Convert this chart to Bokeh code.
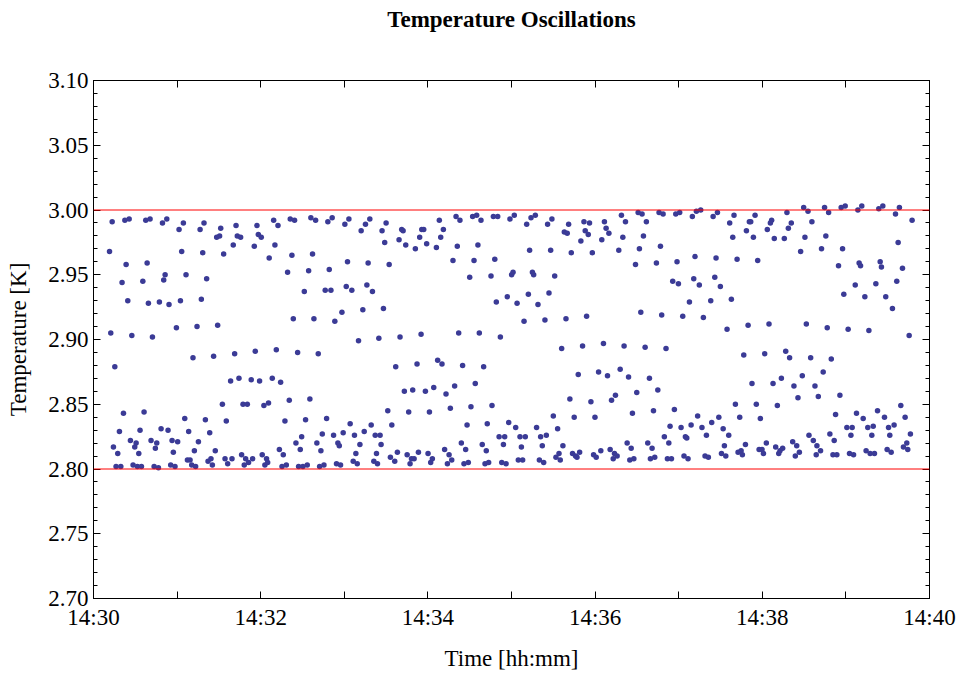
from bokeh.plotting import figure
from bokeh.models import FixedTicker, LinearAxis, Span, Range1d, ColumnDataSource
from bokeh.embed import file_html
from bokeh.resources import INLINE

# ---- data: seconds after 14:30:00 and temperature [K] ----
time_a = [11.5, 12.4, 13.4, 14.3, 15.3, 16.2, 17.4, 18.6, 19.6, 20.5,
          21.5, 22.5, 23.4, 24.6, 25.6, 26.5, 27.5, 28.4, 29.6, 30.6,
          31.5, 32.5, 33.4, 34.4, 35.4, 36.3, 37.5, 38.5, 39.4, 40.6,
          41.3, 42.3, 43.5, 44.4, 45.4, 46.6, 47.3, 48.5, 49.5, 50.4,
          51.4, 52.6, 53.5, 54.2, 55.4, 56.4, 57.3, 58.5, 59.5, 60.4,
          61.4, 62.4, 63.3, 64.5, 65.5, 66.4, 67.4, 68.3, 69.3, 70.5,
          71.4, 72.4, 73.3, 74.3, 75.3, 76.5, 77.4, 78.4, 79.3, 80.3,
          81.2, 82.2, 83.4, 84.3, 85.3, 86.2, 87.4, 88.4, 89.1, 90.5,
          91.3, 92.5, 93.4, 94.4, 95.3, 96.3, 98.4, 99.4, 100.3, 101.3,
          102.3, 103.2, 104.4, 105.6, 106.3, 107.3, 108.2, 109.2, 110.4, 111.3,
          113.2, 114.2, 115.4, 116.1, 117.3, 118.3, 119.2]
temp_a = [2.968, 2.905, 2.991, 2.817, 2.879, 2.802, 2.812, 2.829, 2.802, 2.944,
          2.843, 2.992, 2.958, 2.930, 2.993, 2.822, 2.903, 2.803, 2.817, 2.820,
          2.802, 2.812, 2.830, 2.802, 2.945, 2.844, 2.992, 2.959, 2.928, 2.993,
          2.822, 2.902, 2.802, 2.816, 2.820, 2.801, 2.929, 2.831, 2.990, 2.946,
          2.950, 2.993, 2.830, 2.927, 2.803, 2.822, 2.813, 2.802, 2.909, 2.821,
          2.985, 2.930, 2.968, 2.990, 2.839, 2.950, 2.807, 2.829, 2.807, 2.803,
          2.886, 2.814, 2.802, 2.910, 2.821, 2.985, 2.931, 2.967, 2.990, 2.838,
          2.947, 2.806, 2.828, 2.808, 2.803, 2.887, 2.814, 2.979, 2.911, 2.980,
          2.986, 2.850, 2.966, 2.808, 2.837, 2.804, 2.868, 2.808, 2.973, 2.889,
          2.988, 2.980, 2.870, 2.979, 2.811, 2.850, 2.803, 2.808, 2.850, 2.805,
          2.869, 2.808, 2.972, 2.891, 2.988, 2.981, 2.868]

time_b = [120.4, 121.1, 122.3, 123.0, 124.2, 125.0, 125.6, 126.1, 128.3, 129.3,
          130.2, 131.2, 132.4, 133.4, 134.3, 135.3, 136.2, 137.4, 138.4, 139.3,
          140.5, 141.2, 142.4, 143.4, 144.3, 145.3, 146.5, 147.2, 148.4, 149.4,
          150.3, 151.3, 152.2, 153.4, 154.4, 155.3, 156.0, 157.2, 158.2, 159.4,
          160.3, 161.3, 162.3, 163.2, 164.2, 165.4, 166.3, 167.3, 168.2, 169.2,
          170.4, 171.3, 172.3, 173.2, 174.4, 175.4, 176.4, 177.3, 178.3, 179.2,
          180.4, 181.4, 182.3, 183.3, 184.2, 185.4, 186.4, 187.3, 188.3, 189.3,
          190.2, 191.2, 192.1, 193.3, 194.3, 195.2, 196.2, 197.1, 198.3, 199.3,
          200.2, 201.2, 202.2, 203.1, 203.8, 204.8, 205.7, 206.4, 207.1, 208.1,
          209.0, 210.0, 211.2, 212.2, 213.1, 214.1, 216.2, 216.9, 218.1, 219.3,
          220.0, 221.2, 222.2, 223.1, 224.1, 225.1, 226.2, 227.2, 228.2, 229.1,
          230.1, 231.0, 232.2, 233.2, 234.1, 235.1, 235.6, 237.0, 238.2, 239.1]
temp_b = [2.979, 2.811, 2.849, 2.803, 2.808, 2.805, 2.851, 2.963, 2.870, 2.992,
          2.973, 2.892, 2.988, 2.815, 2.867, 2.802, 2.811, 2.837, 2.803, 2.952,
          2.853, 2.993, 2.965, 2.916, 2.992, 2.820, 2.890, 2.802, 2.815, 2.825,
          2.802, 2.937, 2.838, 2.803, 2.953, 2.854, 2.994, 2.966, 2.916, 2.992,
          2.820, 2.889, 2.802, 2.814, 2.827, 2.803, 2.938, 2.839, 2.991, 2.954,
          2.938, 2.994, 2.826, 2.914, 2.804, 2.820, 2.818, 2.803, 2.921, 2.828,
          2.989, 2.941, 2.960, 2.993, 2.835, 2.938, 2.806, 2.826, 2.812, 2.804,
          2.899, 2.819, 2.984, 2.923, 2.829, 2.989, 2.942, 2.959, 2.993, 2.834,
          2.937, 2.806, 2.826, 2.812, 2.804, 2.901, 2.826, 2.819, 2.984, 2.924,
          2.975, 2.990, 2.845, 2.958, 2.809, 2.834, 2.806, 2.879, 2.813, 2.977,
          2.902, 2.985, 2.984, 2.860, 2.973, 2.811, 2.844, 2.804, 2.808, 2.861,
          2.808, 2.970, 2.881, 2.813, 2.979, 2.904, 2.985, 2.985, 2.860, 2.974]

time_c = [240.1, 241.1, 242.0, 243.2, 244.2, 246.1, 247.0, 248.2, 249.2, 250.1,
          251.1, 252.0, 253.0, 254.0, 255.2, 256.1, 257.1, 258.0, 259.2, 260.2,
          261.1, 262.1, 263.0, 264.0, 264.9, 265.9, 267.1, 268.1, 269.0, 270.0,
          270.9, 272.1, 273.1, 274.0, 275.0, 275.9, 276.9, 278.1, 279.0, 280.0,
          281.0, 281.9, 282.6, 283.6, 285.3, 286.0, 287.0, 288.0, 289.1, 290.1,
          291.1, 292.0, 293.0, 294.2, 295.1, 296.1, 297.0, 298.0, 298.9, 300.1,
          301.1, 302.0, 303.0, 304.0, 304.9, 306.1, 307.1, 308.0, 309.0, 309.9,
          310.9, 312.1, 313.0, 314.0, 315.0, 315.9, 317.1, 318.0, 319.0, 320.0,
          320.9, 322.1, 323.1, 324.0, 325.0, 325.9, 326.9, 328.1, 329.0, 330.0,
          331.0, 331.9, 333.1, 334.1, 335.0, 336.0, 336.9, 337.9, 339.1, 340.0,
          341.0, 341.9, 342.9, 343.8, 345.0, 346.0, 347.0, 347.9, 348.9, 349.8,
          351.0, 352.0, 352.9, 353.9, 355.1, 356.0, 357.0, 358.0, 358.9, 359.9]
temp_c = [2.812, 2.844, 2.805, 2.808, 2.863, 2.971, 2.884, 2.992, 2.979, 2.881,
          2.985, 2.815, 2.858, 2.804, 2.811, 2.847, 2.807, 2.961, 2.864, 2.995,
          2.972, 2.905, 2.992, 2.820, 2.880, 2.804, 2.815, 2.834, 2.805, 2.948,
          2.848, 2.995, 2.961, 2.866, 2.996, 2.973, 2.905, 2.992, 2.819, 2.879,
          2.804, 2.814, 2.835, 2.805, 2.949, 2.849, 2.995, 2.962, 2.929, 2.995,
          2.825, 2.902, 2.805, 2.819, 2.825, 2.804, 2.933, 2.836, 2.993, 2.950,
          2.952, 2.996, 2.832, 2.928, 2.807, 2.825, 2.817, 2.807, 2.914, 2.825,
          2.989, 2.935, 2.969, 2.994, 2.952, 2.950, 2.996, 2.832, 2.927, 2.807,
          2.825, 2.818, 2.805, 2.915, 2.826, 2.989, 2.936, 2.969, 2.993, 2.841,
          2.949, 2.809, 2.831, 2.812, 2.807, 2.893, 2.818, 2.983, 2.916, 2.982,
          2.989, 2.854, 2.967, 2.812, 2.840, 2.810, 2.809, 2.873, 2.813, 2.976,
          2.895, 2.991, 2.984, 2.918, 2.981, 2.990, 2.852, 2.967, 2.811, 2.840]

time_d = [360.8, 362.5, 364.1, 364.8, 366.0, 366.7, 367.9, 368.9, 369.9, 370.8,
          371.8, 373.0, 373.9, 374.6, 375.8, 377.0, 378.0, 378.9, 379.9, 380.8,
          381.8, 383.0, 384.0, 384.9, 385.9, 386.8, 387.8, 389.0, 389.9, 390.9,
          391.8, 392.8, 393.7, 394.7, 395.9, 396.8, 397.8, 399.0, 399.7, 400.9,
          401.9, 402.8, 404.0, 405.0, 405.9, 406.9, 407.8, 408.8, 409.7, 410.9,
          411.9, 412.9, 413.8, 414.8, 415.7, 416.9, 417.9, 418.8, 419.8, 420.7,
          421.7, 422.9, 423.8, 424.8, 425.8, 426.7, 427.7, 428.9, 429.8, 430.8,
          431.7, 432.7, 433.6, 434.8, 435.8, 436.7, 437.7, 438.9, 439.9, 441.3,
          443.0, 443.7, 444.7, 445.9, 446.8, 447.8, 448.8, 449.9, 450.7, 451.9,
          452.8, 453.8, 454.7, 455.9, 456.6, 457.8, 458.8, 459.7, 460.7, 461.9,
          462.6, 463.8, 464.8, 465.7, 466.7, 467.9, 468.6, 469.8, 470.7, 471.7,
          472.6, 473.6, 474.8, 475.7, 476.7, 477.7, 478.6, 479.8]
temp_d = [2.809, 2.875, 2.814, 2.977, 2.897, 2.991, 2.986, 2.872, 2.982, 2.815,
          2.853, 2.808, 2.812, 2.857, 2.810, 2.969, 2.877, 2.996, 2.979, 2.895,
          2.991, 2.820, 2.871, 2.807, 2.816, 2.843, 2.808, 2.958, 2.859, 2.998,
          2.970, 2.921, 2.997, 2.980, 2.894, 2.991, 2.820, 2.870, 2.808, 2.816,
          2.845, 2.809, 2.959, 2.861, 2.998, 2.972, 2.919, 2.997, 2.825, 2.893,
          2.808, 2.820, 2.833, 2.808, 2.945, 2.846, 2.997, 2.960, 2.943, 2.998,
          2.832, 2.918, 2.810, 2.825, 2.824, 2.808, 2.929, 2.834, 2.995, 2.947,
          2.964, 2.999, 2.841, 2.942, 3.000, 2.832, 2.917, 2.810, 2.826, 2.809,
          2.930, 2.836, 2.995, 2.948, 2.963, 2.998, 2.840, 2.941, 2.812, 2.831,
          2.818, 2.810, 2.908, 2.826, 2.990, 2.931, 2.979, 2.996, 2.850, 2.962,
          2.813, 2.840, 2.814, 2.811, 2.888, 2.819, 2.984, 2.911, 2.991, 2.991,
          2.866, 2.979, 2.996, 2.850, 2.961, 2.815, 2.839, 2.815]

time_e = [480.8, 481.7, 482.9, 483.6, 484.8, 485.8, 486.7, 487.7, 488.6, 489.6,
          490.8, 491.8, 492.7, 493.7, 494.6, 495.8, 496.8, 497.7, 498.7, 499.6,
          500.8, 501.8, 502.7, 503.7, 504.7, 505.6, 506.6, 507.5, 508.7, 509.7,
          510.6, 511.6, 512.8, 513.5, 514.7, 515.6, 516.6, 517.8, 518.7, 519.2,
          520.2, 521.8, 522.5, 523.7, 524.7, 525.6, 526.6, 527.6, 528.5, 529.5,
          530.7, 531.6, 532.6, 533.5, 534.7, 535.7, 536.6, 537.6, 538.5, 539.5,
          540.7, 541.6, 542.6, 543.6, 544.5, 545.5, 546.7, 547.6, 548.6, 549.5,
          550.5, 551.4, 552.4, 553.6, 554.5, 555.7, 556.5, 557.4, 558.6, 559.6,
          560.5, 561.5, 562.7, 563.6, 564.6, 565.5, 566.5, 567.7, 568.6, 569.6,
          570.6, 571.5, 572.5, 573.4, 574.6, 575.6, 576.5, 577.5, 578.4, 579.4,
          580.6, 581.3, 582.5, 583.7, 584.4, 585.4, 586.3, 587.5]
temp_e = [2.812, 2.889, 2.820, 2.985, 2.912, 2.990, 2.992, 2.866, 2.978, 2.817,
          2.849, 2.812, 2.814, 2.870, 2.816, 2.978, 2.891, 2.998, 2.986, 2.886,
          2.990, 2.821, 2.864, 2.810, 2.818, 2.855, 2.813, 2.968, 2.872, 3.002,
          2.979, 2.912, 2.999, 2.826, 2.886, 2.991, 2.822, 2.864, 2.811, 2.818,
          2.856, 2.814, 2.970, 2.875, 3.002, 2.980, 2.909, 2.998, 2.827, 2.885,
          2.811, 2.822, 2.842, 2.811, 2.957, 2.857, 3.002, 2.970, 2.935, 3.003,
          2.832, 2.908, 2.812, 2.826, 2.832, 2.811, 2.942, 2.843, 3.000, 2.959,
          2.957, 3.003, 2.839, 2.933, 2.814, 2.832, 2.907, 2.812, 2.826, 2.833,
          2.812, 2.943, 2.845, 3.001, 2.960, 2.956, 3.003, 2.840, 2.933, 2.815,
          2.832, 2.826, 2.813, 2.924, 2.834, 2.997, 2.945, 2.975, 3.002, 2.849,
          2.955, 2.817, 2.840, 2.820, 2.815, 2.903, 2.827, 2.992]

# axis ticks / labels
x_tick_seconds = [0, 120, 240, 360, 480, 600]
x_tick_labels = ["14:30", "14:32", "14:34", "14:36", "14:38", "14:40"]
x_minor_seconds = [60, 180, 300, 420, 540]
y_ticks = [2.70, 2.75, 2.80, 2.85, 2.90, 2.95, 3.00, 3.05, 3.10]
y_minor = [round(2.70 + 0.01 * i, 2) for i in range(41)]
limit_lines = [2.80, 3.00]
title_text = "Temperature Oscillations"

time_s = time_a + time_b + time_c + time_d + time_e
temp_k = temp_a + temp_b + temp_c + temp_d + temp_e
n = min(len(time_s), len(temp_k))
source = ColumnDataSource(data=dict(t=time_s[:n], temp=temp_k[:n]))

SERIF = "Liberation Serif"
FS = "23px"

p = figure(width=960, height=673, output_backend="svg", toolbar_location=None,
           x_range=Range1d(0, 600), y_range=Range1d(2.70, 3.10),
           min_border_left=93, min_border_right=31,
           min_border_top=80, min_border_bottom=75,
           background_fill_color="white", border_fill_color="white")

p.xgrid.visible = False
p.ygrid.visible = False
p.outline_line_color = "black"
p.outline_line_width = 1

xticker = FixedTicker(ticks=x_tick_seconds, minor_ticks=x_minor_seconds)
yticker = FixedTicker(ticks=y_ticks, minor_ticks=y_minor)


def style_axis(ax, minor_len):
    ax.axis_line_color = "black"
    ax.major_tick_line_color = "black"
    ax.minor_tick_line_color = "black"
    ax.major_tick_in = 7
    ax.major_tick_out = 0
    ax.minor_tick_in = minor_len
    ax.minor_tick_out = 0
    ax.major_label_text_font = SERIF
    ax.major_label_text_font_size = FS
    ax.major_label_text_color = "black"
    ax.axis_label_text_font = SERIF
    ax.axis_label_text_font_size = FS
    ax.axis_label_text_font_style = "normal"
    ax.axis_label_text_color = "black"


xa = p.xaxis[0]
xa.ticker = xticker
style_axis(xa, 7)
xa.major_label_overrides = {float(s): lab for s, lab in zip(x_tick_seconds, x_tick_labels)}
xa.axis_label = "Time [hh:mm]"
xa.major_label_standoff = 6
xa.axis_label_standoff = 13

ya = p.yaxis[0]
ya.ticker = yticker
style_axis(ya, 4)
ya.major_label_overrides = {y: f"{y:.2f}" for y in y_ticks}
ya.axis_label = "Temperature [K]"
ya.major_label_standoff = 5
ya.axis_label_standoff = 14

# mirrored frame ticks on top (carrying the chart title) and on the right
top = LinearAxis(ticker=xticker)
style_axis(top, 7)
top.major_label_overrides = {float(s): "" for s in x_tick_seconds}
top.major_label_text_font_size = "1px"
top.major_label_standoff = 0
top.axis_label = title_text
top.axis_label_text_font_style = "bold"
top.axis_label_standoff = 49
p.add_layout(top, "above")

right = LinearAxis(ticker=yticker)
style_axis(right, 4)
right.major_label_overrides = {y: "" for y in y_ticks}
right.major_label_standoff = 0
p.add_layout(right, "right")

for lv in limit_lines:
    p.add_layout(Span(location=lv, dimension="width", line_color="#ff0000", line_width=1))

p.scatter("t", "temp", source=source, size=5.5, fill_color="#3b3b96",
          line_color=None, marker="circle")

open("out.html", "w").write(file_html(p, INLINE))
